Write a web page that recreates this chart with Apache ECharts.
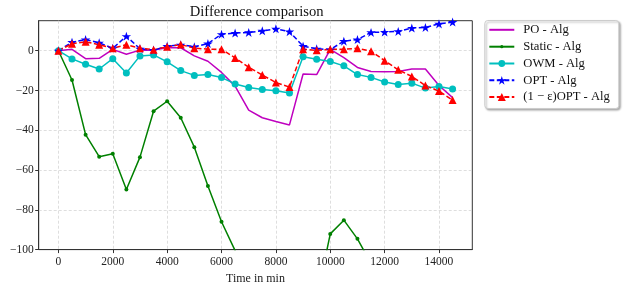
<!DOCTYPE html>
<html>
<head>
<meta charset="utf-8">
<script src="https://cdn.jsdelivr.net/npm/echarts@6/dist/echarts.min.js"></script>
<style>html,body{margin:0;padding:0;background:#fff}#c{width:623px;height:290px}</style>
</head>
<body>
<div id="c"></div>
<script>
const times = [0,500,1000,1500,2000,2500,3000,3500,4000,4500,5000,5500,6000,6500,7000,7500,8000,8500,9000,9500,10000,10500,11000,11500,12000,12500,13000,13500,14000,14500];
const poAlg = [0,0.7,-4,-3.8,0.7,-1.8,0.3,0.3,1.5,1.5,-2.6,-5.3,-10.9,-17.8,-29.9,-33.7,-35.6,-37.3,-11.7,-12,0.7,-3.5,-8.4,-10.4,-10.6,-10.4,-9.2,-9.2,-17.5,-23.6];
const staticAlg = [0,-14.7,-42.2,-53.3,-51.8,-69.8,-53.5,-30.4,-25.4,-33.7,-48.5,-68,-86,-100.5,-118,-130,-138,-142,-135,-125,-92.1,-85.2,-94.6,-107,-118,-125,-132,-138,-142,-146];
const owmAlg = [0,-4.1,-6.8,-9.2,-4,-11.2,-2.6,-2.1,-5.6,-10,-12.4,-12,-13.5,-16.7,-18.5,-19.5,-20.1,-21.3,-3,-4.3,-5.4,-7.6,-12,-13.4,-15.7,-17,-16.3,-18.8,-18,-19.3];
const optAlg = [0,4.3,5.6,4,1.2,7.3,1,0.3,2.3,3,2,3.6,8.3,8.9,9.2,10,11,9.6,2.3,1,0.6,4.8,5.6,9.2,9.4,9.7,11.4,11.7,13.5,14.4];
const epsOptAlg = [0,3.5,4.5,3,1.3,3,1.3,0.5,2,3.1,1.3,0.8,0.7,-3.6,-8.3,-12.2,-16,-18.3,0.8,0.2,0.7,0.7,1.2,-0.2,-5,-9.6,-12.9,-17.5,-20.3,-24.8];
const xTicks = [0,2000,4000,6000,8000,10000,12000,14000];
const yTicks = [-100,-80,-60,-40,-20,0];
const seriesNames = ['PO - Alg','Static - Alg','OWM - Alg','OPT - Alg','(1 − ε)OPT - Alg'];
const titleText = 'Difference comparison';

function starPath(){
  let pts=[];
  for(let k=0;k<10;k++){
    const r = k%2===0 ? 1 : 0.382;
    const a = -Math.PI/2 + k*Math.PI/5;
    pts.push((r*Math.cos(a)).toFixed(3)+' '+(r*Math.sin(a)).toFixed(3));
  }
  return 'path://M'+pts.join(' L')+' Z';
}
const STAR = starPath();
const pair = arr => times.map((t,i)=>[t,arr[i]]);
const fmtMinus = v => String(v).replace('-', '\u2212');
const serif = 'Liberation Serif';

// legend layout (one legend per entry so each marker can have its own size)
const legRows = [29.3, 46.2, 63, 79.8, 96.6];
const legIconH = [10, 4, 8.5, 11, 10];
const legends = seriesNames.map((n,i)=>({
  orient:'vertical', left:488.3, top:legRows[i]-Math.max(12,legIconH[i])/2, itemWidth:25, itemHeight:legIconH[i], padding:0,
  textStyle:{fontFamily:serif, fontSize:12.6, color:'#111', lineHeight:12, padding:[0,0,0,4]},
  data: i===0 ? [{name:n, itemStyle:{color:'rgba(0,0,0,0)', borderWidth:0, opacity:0}}] : [n],
  selectedMode:false
}));

const chart = echarts.init(document.getElementById('c'), null, {renderer:'canvas'});
chart.setOption({
  animation:false,
  backgroundColor:'#fff',
  graphic:[
    {type:'text', x:256.7, y:11.8, style:{text:titleText, align:'center', verticalAlign:'middle',
      fontFamily:serif, fontSize:14.6, fill:'#111'}},
    {type:'rect', left:484.3, top:20, shape:{width:134, height:88, r:3}, z:-1,
    style:{fill:'#fff', stroke:'#cccccc', lineWidth:1, shadowColor:'rgba(0,0,0,0.3)', shadowBlur:2, shadowOffsetX:1.5, shadowOffsetY:1.5}}],
  grid:{left:38.7, right:150.7, top:20.7, bottom:36.7, show:true, borderColor:'#333', borderWidth:1, containLabel:false},
  legend:legends,
  xAxis:{type:'value', min:-725, max:15225,
    name:'Time in min', nameLocation:'middle', nameGap:23,
    nameTextStyle:{fontFamily:serif, fontSize:12, color:'#222'},
    axisLine:{show:true, onZero:false, lineStyle:{color:'#333', width:1}},
    axisTick:{show:true, length:3.5, lineStyle:{color:'#333'}, customValues:xTicks},
    axisLabel:{fontFamily:serif, fontSize:11.5, color:'#222', margin:6.5, customValues:xTicks, formatter:fmtMinus},
    splitLine:{show:true, lineStyle:{color:'#d5d5d5', type:[3,2], width:0.8}}
  },
  yAxis:{type:'value', min:-100, max:15.1,
    axisLine:{show:true, onZero:false, lineStyle:{color:'#333', width:1}},
    axisTick:{show:true, length:3.5, lineStyle:{color:'#333'}, customValues:yTicks},
    axisLabel:{fontFamily:serif, fontSize:11.5, color:'#222', margin:5, customValues:yTicks, formatter:fmtMinus},
    splitLine:{show:true, lineStyle:{color:'#d5d5d5', type:[3,2], width:0.8}}
  },
  series:[
    {name:seriesNames[0], type:'line', data:pair(poAlg), symbol:'none', showSymbol:false,
      lineStyle:{color:'#bf00bf', width:1.5}, itemStyle:{color:'#bf00bf'}},
    {name:seriesNames[1], type:'line', data:pair(staticAlg), symbol:'circle', symbolSize:4,
      lineStyle:{color:'#008000', width:1.5}, itemStyle:{color:'#008000'}},
    {name:seriesNames[2], type:'line', data:pair(owmAlg), symbol:'circle', symbolSize:7,
      lineStyle:{color:'#00bfbf', width:1.5}, itemStyle:{color:'#00bfbf'}},
    {name:seriesNames[3], type:'line', data:pair(optAlg), symbol:STAR, symbolSize:9.5, symbolKeepAspect:true,
      lineStyle:{color:'#0000ff', width:1.5, type:[5,2.5]}, itemStyle:{color:'#0000ff'}},
    {name:seriesNames[4], type:'line', data:pair(epsOptAlg), symbol:'triangle', symbolSize:8,
      lineStyle:{color:'#ff0000', width:1.5, type:[5,2.5]}, itemStyle:{color:'#ff0000'}}
  ]
});
</script>
</body>
</html>
